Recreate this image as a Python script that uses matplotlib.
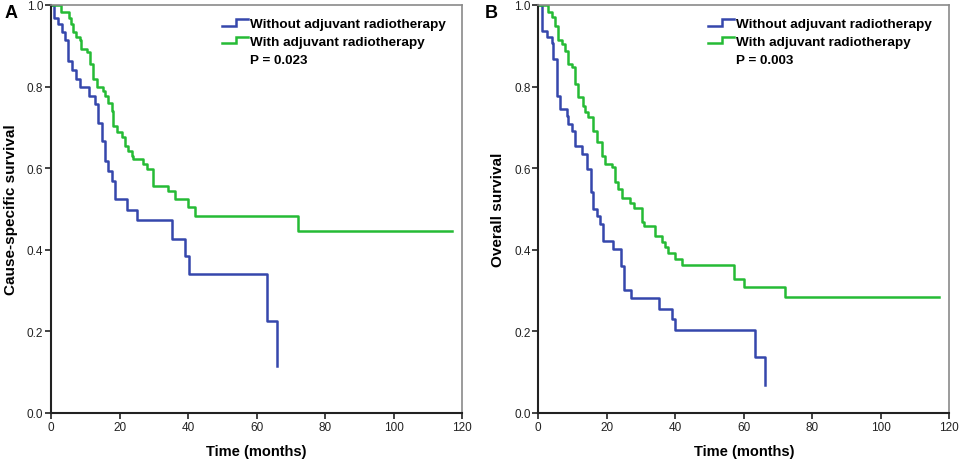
import numpy as np
import matplotlib
matplotlib.use("Agg")
import matplotlib.pyplot as plt
from matplotlib.legend_handler import HandlerBase
from matplotlib.lines import Line2D

plt.rcParams["font.family"] = ["Liberation Sans", "DejaVu Sans"]

# panel A - cause-specific survival (Kaplan-Meier steps)
a_wo_t = [0, 0.9, 2.0, 3.1, 4.2, 5.1, 6.0, 7.2, 8.6, 11.2, 12.8, 13.8, 14.8, 15.8, 16.7, 17.7,
          18.7, 22.1, 25.0, 35.2, 39.1, 40.3, 63.0, 66.1]
a_wo_s = [1.0, 0.968, 0.953, 0.935, 0.915, 0.862, 0.840, 0.819, 0.798, 0.778, 0.757, 0.712,
          0.667, 0.618, 0.594, 0.569, 0.525, 0.498, 0.472, 0.426, 0.384, 0.341, 0.226, 0.116]
a_w_t = [0, 3.0, 5.4, 5.9, 6.4, 7.4, 8.4, 8.9, 10.6, 11.3, 12.3, 13.5, 15.2, 15.8, 16.7, 17.7,
         18.2, 19.2, 20.6, 21.6, 22.6, 23.6, 24.0, 27.0, 27.9, 29.9, 34.3, 36.2, 40.1, 42.0,
         72.0, 117.0]
a_w_s = [1.0, 0.984, 0.968, 0.953, 0.933, 0.921, 0.913, 0.892, 0.884, 0.855, 0.819, 0.798,
         0.790, 0.778, 0.761, 0.741, 0.704, 0.688, 0.676, 0.655, 0.643, 0.631, 0.623, 0.610,
         0.598, 0.557, 0.545, 0.525, 0.504, 0.484, 0.446, 0.446]

# panel B - overall survival
b_wo_t = [0, 1.0, 2.4, 3.9, 4.4, 5.4, 6.3, 8.3, 8.8, 9.7, 10.7, 12.8, 14.3, 15.3, 16.1, 17.1,
          18.0, 19.0, 21.9, 24.0, 25.0, 27.0, 35.1, 39.0, 40.0, 63.4, 66.3]
b_wo_s = [1.0, 0.937, 0.921, 0.908, 0.868, 0.778, 0.745, 0.729, 0.708, 0.692, 0.655, 0.634,
          0.598, 0.541, 0.500, 0.482, 0.463, 0.422, 0.402, 0.361, 0.302, 0.281, 0.255, 0.230,
          0.204, 0.137, 0.069]
b_w_t = [0, 2.9, 3.9, 5.0, 5.8, 6.8, 7.8, 8.8, 9.7, 10.7, 11.7, 13.1, 13.6, 14.6, 16.1, 17.0,
         18.6, 19.5, 21.5, 22.4, 23.4, 24.4, 26.8, 28.0, 30.4, 30.9, 34.1, 36.1, 37.0, 38.0,
         40.0, 42.1, 57.2, 60.1, 72.1, 116.9]
b_w_s = [1.0, 0.982, 0.970, 0.949, 0.913, 0.904, 0.888, 0.855, 0.847, 0.806, 0.774, 0.753,
         0.737, 0.725, 0.692, 0.663, 0.631, 0.610, 0.602, 0.565, 0.549, 0.528, 0.515, 0.502,
         0.467, 0.458, 0.433, 0.420, 0.406, 0.392, 0.377, 0.363, 0.328, 0.308, 0.285, 0.285]

group_names = ["Without adjuvant radiotherapy", "With adjuvant radiotherapy"]
panel_letters = ["A", "B"]
y_titles = ["Cause-specific survival", "Overall survival"]
p_texts = ["P = 0.023", "P = 0.003"]

blue = "#3547ac"
green = "#25bb35"


class StepHandler(HandlerBase):
    # small step icon like the SPSS legend
    def create_artists(self, legend, orig_handle, xdescent, ydescent, width, height, fontsize, trans):
        xs = np.array([0, 0.55, 0.55, 1.0]) * width - xdescent
        ys = np.array([0.15, 0.15, 0.85, 0.85]) * height - ydescent
        ln = Line2D(xs, ys, color=orig_handle.get_color(), lw=1.8, solid_joinstyle="miter")
        ln.set_transform(trans)
        return [ln]


fig = plt.figure(figsize=(9.63, 4.64), dpi=100)
axA = fig.add_axes([51/963, 50/464, 411/963, 408/464])
axB = fig.add_axes([538.3/963, 50/464, 411/963, 408/464])

panels = [
    (axA, a_wo_t, a_wo_s, a_w_t, a_w_s, 0.416, -0.080),
    (axB, b_wo_t, b_wo_s, b_w_t, b_w_s, 0.413, -0.081),
]

for i, (ax, t1, s1, t2, s2, legx, ylx) in enumerate(panels):
    l1, = ax.step(t1, s1, where="post", color=blue, lw=1.8, label=group_names[0])
    l2, = ax.step(t2, s2, where="post", color=green, lw=1.8, label=group_names[1])

    ax.set_xlim(0, 120)
    ax.set_ylim(0, 1.0)
    ax.set_xticks(np.arange(0, 121, 20))
    ax.set_yticks(np.arange(0, 1.01, 0.2))
    ax.set_yticklabels(["%.1f" % v for v in np.arange(0, 1.01, 0.2)])
    ax.tick_params(direction="out", length=4, width=1.2, labelsize=8.5, pad=1.5, colors="#222222")

    for side in ["left", "bottom"]:
        ax.spines[side].set_color("#222222")
        ax.spines[side].set_linewidth(1.5)
    for side in ["top", "right"]:
        ax.spines[side].set_color("#8a8a8a")
        ax.spines[side].set_linewidth(1.2)

    ax.set_xlabel("Time (months)", fontsize=10.5, fontweight="bold")
    ax.xaxis.set_label_coords(0.5, -0.076)
    ax.set_ylabel(y_titles[i], fontsize=11, fontweight="bold")
    ax.yaxis.set_label_coords(ylx, 0.5)

    ax.legend(handles=[l1, l2], handler_map={Line2D: StepHandler()}, frameon=False,
              loc="upper left", bbox_to_anchor=(legx, 0.969), borderaxespad=0, borderpad=0,
              handlelength=1.9, handletextpad=0.2, labelspacing=0.38,
              prop={"size": 9.7, "weight": "bold"})
    ax.text(legx + 0.068, 0.866, p_texts[i], transform=ax.transAxes, fontsize=9.7,
            fontweight="bold", va="center", ha="left")

fig.text(0.005, 0.99, panel_letters[0], fontsize=13, fontweight="bold", va="top", ha="left")
fig.text(0.503, 0.99, panel_letters[1], fontsize=13, fontweight="bold", va="top", ha="left")

fig.savefig("out.png", dpi=100)
